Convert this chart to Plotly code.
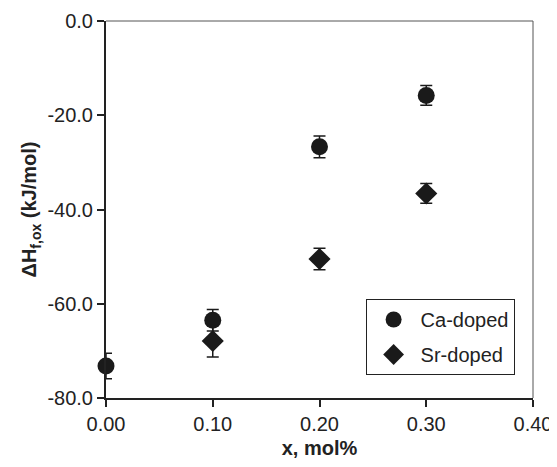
import plotly.graph_objects as go

x_vals = [0.0, 0.1, 0.2, 0.3]
ca_y = [-73.2, -63.5, -26.7, -15.8]
ca_err = [2.7, 2.3, 2.3, 2.1]
sr_x = [0.1, 0.2, 0.3]
sr_y = [-67.9, -50.5, -36.6]
sr_err = [3.4, 2.3, 2.1]

x_ticks = [0.0, 0.1, 0.2, 0.3, 0.4]
x_ticktext = ["0.00", "0.10", "0.20", "0.30", "0.40"]
y_ticks = [0, -20, -40, -60, -80]
y_ticktext = ["0.0", "-20.0", "-40.0", "-60.0", "-80.0"]

FONT = "Liberation Sans, Arial, sans-serif"
INK = "#1a1a1a"
FS = 20

fig = go.Figure()
fig.add_trace(go.Scatter(
    x=x_vals, y=ca_y, mode="markers", name="Ca-doped", legendgroup="ca",
    marker=dict(symbol="circle", size=17, color=INK),
    error_y=dict(type="data", array=ca_err, visible=True, color=INK, thickness=1.5, width=6),
    cliponaxis=False,
))
fig.add_trace(go.Scatter(
    x=sr_x, y=sr_y, mode="markers", name="Sr-doped", legendgroup="sr",
    marker=dict(symbol="diamond", size=17, color=INK),
    error_y=dict(type="data", array=sr_err, visible=True, color=INK, thickness=1.5, width=6),
    cliponaxis=False,
))

fig.update_layout(
    width=549, height=451,
    margin=dict(l=98, r=24, t=13, b=61, autoexpand=False),
    plot_bgcolor="white", paper_bgcolor="white",
    font=dict(family=FONT, size=FS, color="#222"),
    showlegend=True,
    legend=dict(
        x=0.608, y=0.2626, xanchor="left", yanchor="top",
        bgcolor="white", bordercolor="#222", borderwidth=1,
        font=dict(size=FS, color="#222"),
        traceorder="grouped", tracegroupgap=6, itemwidth=44,
    ),
    xaxis=dict(
        range=[0, 0.4], tickvals=x_ticks, ticktext=x_ticktext,
        showline=True, linecolor="#222", linewidth=2,
        ticks="outside", ticklen=7, tickwidth=1.5, tickcolor="#222",
        showgrid=False, zeroline=False, mirror=False, automargin=False,
        title=dict(text="<b>x, mol%</b>", font=dict(size=FS, color="#222"), standoff=14),
    ),
    yaxis=dict(
        range=[-80, 0], tickvals=y_ticks, ticktext=y_ticktext,
        showline=True, linecolor="#222", linewidth=2,
        ticks="outside", ticklen=7, tickwidth=1.5, tickcolor="#222",
        showgrid=False, zeroline=False, mirror=False, automargin=False,
        title=dict(text="<b>ΔH<sub>f,ox</sub> (kJ/mol)</b>", font=dict(size=FS, color="#222"), standoff=5),
    ),
    shapes=[
        dict(type="line", xref="paper", yref="paper", x0=0, x1=1, y0=1, y1=1,
             line=dict(color="#555", width=1)),
        dict(type="line", xref="paper", yref="paper", x0=1, x1=1, y0=0, y1=1,
             line=dict(color="#555", width=1)),
    ],
)

fig.write_html("out.html")
